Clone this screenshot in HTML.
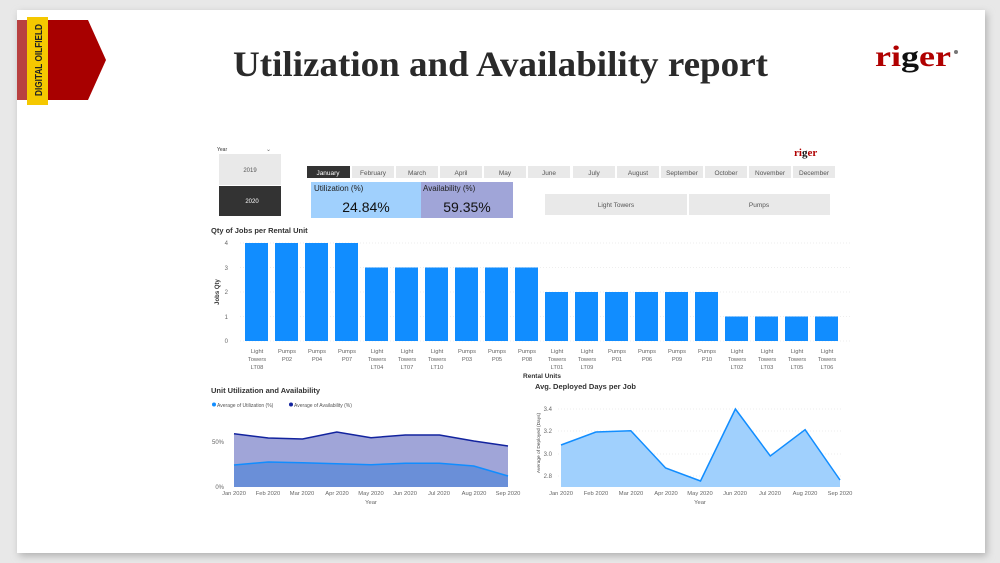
<!DOCTYPE html>
<html><head><meta charset="utf-8"><style>
html,body{margin:0;padding:0;background:#e6e6e6;}
svg{display:block;font-family:"Liberation Sans",sans-serif;}
</style></head><body>
<svg width="1000" height="563" viewBox="0 0 1000 563" xmlns="http://www.w3.org/2000/svg">
<defs><filter id="sh" x="-5%" y="-5%" width="110%" height="110%"><feGaussianBlur stdDeviation="4"/></filter></defs>
<rect x="0" y="0" width="1000" height="563" fill="#e8e8e8"/>
<rect x="19" y="13" width="968" height="543" fill="#b0b0b0" filter="url(#sh)"/>
<rect x="17" y="10" width="968" height="543" fill="#fff"/>
<!-- banner -->
<polygon points="17,20 88,20 106,60 88,100 17,100" fill="#a80000"/>
<rect x="17" y="20" width="10" height="80" fill="#b84040"/>
<rect x="27" y="17" width="21" height="88" fill="#f5c800"/>
<text transform="translate(42,96) rotate(-90)" font-size="10.5" font-weight="bold" fill="#222" textLength="72" lengthAdjust="spacingAndGlyphs">DIGITAL OILFIELD</text>
<!-- title -->
<text x="233" y="76" font-family="Liberation Serif,serif" font-size="36" font-weight="bold" fill="#2a2a2a" textLength="535" lengthAdjust="spacingAndGlyphs">Utilization and Availability report</text>
<!-- logo -->
<text x="875" y="66" font-family="Liberation Serif,serif" font-size="30" font-weight="bold" fill="#b00000" textLength="76" lengthAdjust="spacingAndGlyphs">ri<tspan fill="#111">g</tspan>er</text>
<circle cx="956" cy="52" r="2" fill="#777"/>
<text x="794" y="156" font-family="Liberation Serif,serif" font-size="11" font-weight="bold" fill="#b00000">ri<tspan fill="#111">g</tspan>er</text>
<!-- year slicer -->
<text x="217" y="151" font-size="5" fill="#333">Year</text>
<text x="266" y="151" font-size="6" fill="#666">⌄</text>
<rect x="219" y="154" width="62" height="31" fill="#e9e9e9"/>
<text x="250" y="172" font-size="6" fill="#555" text-anchor="middle">2019</text>
<rect x="219" y="186" width="62" height="30" fill="#333"/>
<text x="252" y="203" font-size="6" fill="#fff" text-anchor="middle">2020</text>
<!-- months -->
<g font-size="6.5" fill="#555" text-anchor="middle">
<rect x="307" y="166" width="43" height="12" fill="#333"/><text x="328" y="175" fill="#fff">January</text>
<rect x="352" y="166" width="42" height="12" fill="#e9e9e9"/><text x="373" y="175">February</text>
<rect x="396" y="166" width="42" height="12" fill="#e9e9e9"/><text x="417" y="175">March</text>
<rect x="440" y="166" width="42" height="12" fill="#e9e9e9"/><text x="461" y="175">April</text>
<rect x="484" y="166" width="42" height="12" fill="#e9e9e9"/><text x="505" y="175">May</text>
<rect x="528" y="166" width="42" height="12" fill="#e9e9e9"/><text x="549" y="175">June</text>
<rect x="573" y="166" width="42" height="12" fill="#e9e9e9"/><text x="594" y="175">July</text>
<rect x="617" y="166" width="42" height="12" fill="#e9e9e9"/><text x="638" y="175">August</text>
<rect x="661" y="166" width="42" height="12" fill="#e9e9e9"/><text x="682" y="175">September</text>
<rect x="705" y="166" width="42" height="12" fill="#e9e9e9"/><text x="726" y="175">October</text>
<rect x="749" y="166" width="42" height="12" fill="#e9e9e9"/><text x="770" y="175">November</text>
<rect x="793" y="166" width="42" height="12" fill="#e9e9e9"/><text x="814" y="175">December</text>
</g>
<!-- KPI -->
<rect x="311" y="182" width="110" height="36" fill="#a0d0fd"/>
<rect x="421" y="182" width="92" height="36" fill="#a0a5d8"/>
<text x="314" y="191" font-size="8" fill="#222">Utilization (%)</text>
<text x="423" y="191" font-size="8" fill="#222">Availability (%)</text>
<text x="366" y="212" font-size="14" fill="#111" text-anchor="middle">24.84%</text>
<text x="467" y="212" font-size="14" fill="#111" text-anchor="middle">59.35%</text>
<rect x="545" y="194" width="142" height="21" fill="#e9e9e9"/>
<rect x="689" y="194" width="141" height="21" fill="#e9e9e9"/>
<text x="616" y="207" font-size="6.5" fill="#555" text-anchor="middle">Light Towers</text>
<text x="759" y="207" font-size="6.5" fill="#555" text-anchor="middle">Pumps</text>
<!-- bar chart -->
<text x="211" y="233" font-size="7.5" font-weight="bold" fill="#333">Qty of Jobs per Rental Unit</text>
<g stroke="#ddd" stroke-width="0.6" stroke-dasharray="1,2">
<line x1="240" y1="243" x2="852" y2="243"/><line x1="240" y1="267.5" x2="852" y2="267.5"/><line x1="240" y1="292" x2="852" y2="292"/><line x1="240" y1="316.5" x2="852" y2="316.5"/><line x1="240" y1="341" x2="852" y2="341"/>
</g>
<g font-size="6" fill="#666" text-anchor="end">
<text x="228" y="245">4</text><text x="228" y="270">3</text><text x="228" y="294">2</text><text x="228" y="319">1</text><text x="228" y="343">0</text>
</g>
<text transform="translate(219,292) rotate(-90)" font-size="6" font-weight="bold" fill="#333" text-anchor="middle">Jobs Qty</text>
<g fill="#118dff">
<rect x="245" y="243" width="23" height="98"/><rect x="275" y="243" width="23" height="98"/><rect x="305" y="243" width="23" height="98"/><rect x="335" y="243" width="23" height="98"/>
<rect x="365" y="267.5" width="23" height="73.5"/><rect x="395" y="267.5" width="23" height="73.5"/><rect x="425" y="267.5" width="23" height="73.5"/><rect x="455" y="267.5" width="23" height="73.5"/><rect x="485" y="267.5" width="23" height="73.5"/><rect x="515" y="267.5" width="23" height="73.5"/>
<rect x="545" y="292" width="23" height="49"/><rect x="575" y="292" width="23" height="49"/><rect x="605" y="292" width="23" height="49"/><rect x="635" y="292" width="23" height="49"/><rect x="665" y="292" width="23" height="49"/><rect x="695" y="292" width="23" height="49"/>
<rect x="725" y="316.5" width="23" height="24.5"/><rect x="755" y="316.5" width="23" height="24.5"/><rect x="785" y="316.5" width="23" height="24.5"/><rect x="815" y="316.5" width="23" height="24.5"/>
</g>
<g font-size="5.8" fill="#666" text-anchor="middle">
<text x="257" y="353">Light</text><text x="257" y="361">Towers</text><text x="257" y="369">LT08</text>
<text x="287" y="353">Pumps</text><text x="287" y="361">P02</text>
<text x="317" y="353">Pumps</text><text x="317" y="361">P04</text>
<text x="347" y="353">Pumps</text><text x="347" y="361">P07</text>
<text x="377" y="353">Light</text><text x="377" y="361">Towers</text><text x="377" y="369">LT04</text>
<text x="407" y="353">Light</text><text x="407" y="361">Towers</text><text x="407" y="369">LT07</text>
<text x="437" y="353">Light</text><text x="437" y="361">Towers</text><text x="437" y="369">LT10</text>
<text x="467" y="353">Pumps</text><text x="467" y="361">P03</text>
<text x="497" y="353">Pumps</text><text x="497" y="361">P05</text>
<text x="527" y="353">Pumps</text><text x="527" y="361">P08</text>
<text x="557" y="353">Light</text><text x="557" y="361">Towers</text><text x="557" y="369">LT01</text>
<text x="587" y="353">Light</text><text x="587" y="361">Towers</text><text x="587" y="369">LT09</text>
<text x="617" y="353">Pumps</text><text x="617" y="361">P01</text>
<text x="647" y="353">Pumps</text><text x="647" y="361">P06</text>
<text x="677" y="353">Pumps</text><text x="677" y="361">P09</text>
<text x="707" y="353">Pumps</text><text x="707" y="361">P10</text>
<text x="737" y="353">Light</text><text x="737" y="361">Towers</text><text x="737" y="369">LT02</text>
<text x="767" y="353">Light</text><text x="767" y="361">Towers</text><text x="767" y="369">LT03</text>
<text x="797" y="353">Light</text><text x="797" y="361">Towers</text><text x="797" y="369">LT05</text>
<text x="827" y="353">Light</text><text x="827" y="361">Towers</text><text x="827" y="369">LT06</text>
</g>
<text x="542" y="378" font-size="6.5" font-weight="bold" fill="#333" text-anchor="middle">Rental Units</text>
<!-- left area chart -->
<text x="211" y="393" font-size="7.5" font-weight="bold" fill="#333">Unit Utilization and Availability</text>
<circle cx="214" cy="404.5" r="2" fill="#118dff"/><text x="217" y="407" font-size="5" fill="#555">Average of Utilization (%)</text>
<circle cx="291" cy="404.5" r="2" fill="#12239e"/><text x="294" y="407" font-size="5" fill="#555">Average of Availability (%)</text>
<g font-size="6" fill="#666" text-anchor="end"><text x="224" y="444">50%</text><text x="224" y="489">0%</text></g>
<polygon points="234,433.7 268.3,438 302.5,439 336.8,432 371,437.7 405.3,435 439.5,435 473.8,441 508,446 508,487 234,487" fill="#a0a5d8"/>
<polygon points="234,465 268.3,462 302.5,462.7 336.8,463.7 371,464.7 405.3,463.3 439.5,463.3 473.8,466 508,476 508,487 234,487" fill="#6a8fd8"/>
<polyline points="234,433.7 268.3,438 302.5,439 336.8,432 371,437.7 405.3,435 439.5,435 473.8,441 508,446" fill="none" stroke="#12239e" stroke-width="1.5"/>
<polyline points="234,465 268.3,462 302.5,462.7 336.8,463.7 371,464.7 405.3,463.3 439.5,463.3 473.8,466 508,476" fill="none" stroke="#118dff" stroke-width="1.5"/>
<g font-size="5.8" fill="#666" text-anchor="middle">
<text x="234" y="495">Jan 2020</text><text x="268" y="495">Feb 2020</text><text x="302" y="495">Mar 2020</text><text x="337" y="495">Apr 2020</text><text x="371" y="495">May 2020</text><text x="405" y="495">Jun 2020</text><text x="439" y="495">Jul 2020</text><text x="474" y="495">Aug 2020</text><text x="508" y="495">Sep 2020</text>
<text x="371" y="504">Year</text>
</g>
<!-- right area chart -->
<text x="535" y="389" font-size="7.5" font-weight="bold" fill="#333">Avg. Deployed Days per Job</text>
<g stroke="#ddd" stroke-width="0.6" stroke-dasharray="1,2">
<line x1="558" y1="409" x2="842" y2="409"/><line x1="558" y1="431" x2="842" y2="431"/><line x1="558" y1="454" x2="842" y2="454"/><line x1="558" y1="476" x2="842" y2="476"/>
</g>
<g font-size="6" fill="#666" text-anchor="end"><text x="552" y="411">3.4</text><text x="552" y="433">3.2</text><text x="552" y="456">3.0</text><text x="552" y="478">2.8</text></g>
<text transform="translate(540,443) rotate(-90)" font-size="4.8" fill="#444" text-anchor="middle">Average of Deployed (Days)</text>
<polygon points="561,445 595.9,432 630.8,430.7 665.6,468 700.5,481 735.4,409 770.3,456 805.1,429.7 840,480 840,487 561,487" fill="#a0d0fd"/>
<polyline points="561,445 595.9,432 630.8,430.7 665.6,468 700.5,481 735.4,409 770.3,456 805.1,429.7 840,480" fill="none" stroke="#118dff" stroke-width="1.5"/>
<g font-size="5.8" fill="#666" text-anchor="middle">
<text x="561" y="495">Jan 2020</text><text x="596" y="495">Feb 2020</text><text x="631" y="495">Mar 2020</text><text x="666" y="495">Apr 2020</text><text x="700" y="495">May 2020</text><text x="735" y="495">Jun 2020</text><text x="770" y="495">Jul 2020</text><text x="805" y="495">Aug 2020</text><text x="840" y="495">Sep 2020</text>
<text x="700" y="504">Year</text>
</g>
</svg>
</body></html>
